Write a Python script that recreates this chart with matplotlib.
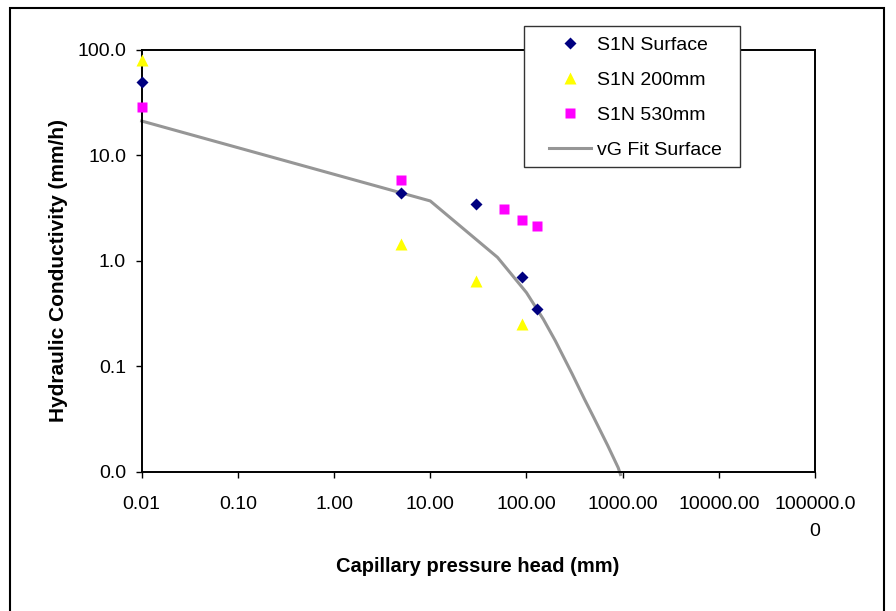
import numpy as np
import matplotlib.pyplot as plt
from matplotlib.patches import Rectangle
from matplotlib.ticker import FixedLocator, FixedFormatter, NullLocator

plt.rcParams['font.family'] = ['Liberation Sans', 'DejaVu Sans']

# measured conductivity at each suction (mm, mm/h)
surf_h = [0.01, 5, 30, 90, 130]
surf_k = [49.5, 4.4, 3.44, 0.70, 0.35]

k200_h = [0.01, 5, 30, 90]
k200_k = [80, 1.44, 0.65, 0.25]

k530_h = [0.01, 5, 59, 89, 128]
k530_k = [28.7, 5.9, 3.13, 2.46, 2.13]

# van Genuchten fit for the surface layer
fit_h = [0.01, 10, 50, 73, 100, 150, 200, 300, 400, 500, 700, 900, 950]
fit_k = [21.2, 3.7, 1.08, 0.71, 0.50, 0.279, 0.174, 0.084, 0.049, 0.0328, 0.0177, 0.0109, 0.0094]

xticks = [0.01, 0.1, 1, 10, 100, 1000, 10000, 100000]
xlabels = ['0.01', '0.10', '1.00', '10.00', '100.00', '1000.00', '10000.00', '100000.0\n0']
yticks = [0.01, 0.1, 1, 10, 100]
ylabels = ['0.0', '0.1', '1.0', '10.0', '100.0']

W, H = 896, 611
fig = plt.figure(figsize=(W / 100, H / 100), dpi=100)
fig.patch.set_facecolor('white')

# outer chart border
fig.patches.append(Rectangle((10 / W, -0.02), 874 / W, 1 - 8 / H + 0.02,
                             transform=fig.transFigure, fill=False,
                             edgecolor='black', linewidth=1.5))

ax = fig.add_axes([141.7 / W, 1 - 471.7 / H, (815 - 141.7) / W, (471.7 - 50) / H])
ax.set_xscale('log')
ax.set_yscale('log')
ax.set_xlim(0.01, 100000)
ax.set_ylim(0.01, 100)

ax.plot(fit_h, fit_k, color='#969696', lw=2.2, label='vG Fit Surface', zorder=2, clip_on=False)
ax.plot(surf_h, surf_k, 'D', color='#000080', ms=6.5, mec='none', label='S1N Surface', zorder=3, clip_on=False)
ax.plot(k200_h, k200_k, '^', color='#FFFF00', ms=9, mec='none', label='S1N 200mm', zorder=3, clip_on=False)
ax.plot(k530_h, k530_k, 's', color='#FF00FF', ms=6.5, mec='none', label='S1N 530mm', zorder=3, clip_on=False)

ax.xaxis.set_major_locator(FixedLocator(xticks))
ax.xaxis.set_major_formatter(FixedFormatter(xlabels))
ax.yaxis.set_major_locator(FixedLocator(yticks))
ax.yaxis.set_major_formatter(FixedFormatter(ylabels))
ax.xaxis.set_minor_locator(NullLocator())
ax.yaxis.set_minor_locator(NullLocator())
ax.tick_params(direction='out', length=4.3, width=1, labelsize=14, color='black')
ax.tick_params(axis='x', pad=13)
ax.tick_params(axis='y', pad=7)
for t in ax.get_xticklabels():
    t.set_linespacing(1.8)
for s in ax.spines.values():
    s.set_linewidth(1.4)

fig.text(478 / W, 1 - 567 / H, 'Capillary pressure head (mm)', ha='center', va='center',
         fontsize=14.5, fontweight='bold')
fig.text(59 / W, 1 - 271 / H, 'Hydraulic Conductivity (mm/h)', ha='center', va='center',
         rotation=90, fontsize=15, fontweight='bold')

# legend box drawn separately so its padding can be set freely
fig.patches.append(Rectangle((524 / W, 1 - 167 / H), 216 / W, 141 / H,
                             transform=fig.transFigure, facecolor='white',
                             edgecolor='#333333', linewidth=1.0, zorder=5))
handles, labels = ax.get_legend_handles_labels()
order = [1, 2, 3, 0]
leg = fig.legend([handles[i] for i in order], [labels[i] for i in order],
                 loc='upper left', bbox_to_anchor=(549 / W, 1 - 36 / H),
                 fontsize=14, frameon=False, borderpad=0, labelspacing=0.9,
                 handlelength=2.15, handletextpad=0.3, borderaxespad=0)
leg.set_zorder(6)

fig.savefig('out.png', dpi=100)
